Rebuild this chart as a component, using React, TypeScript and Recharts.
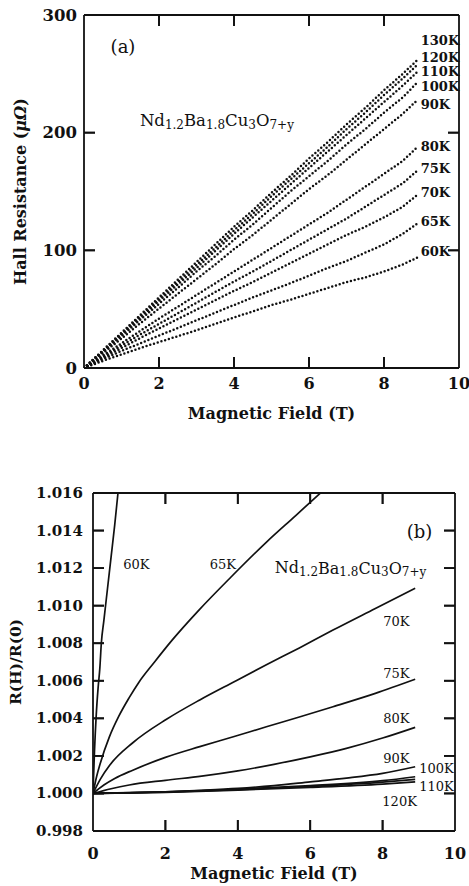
import { ComposedChart, Label, Line, ReferenceLine, Scatter, XAxis, YAxis } from "recharts";

// ---- panel (a): Hall resistance (μΩ) vs field (T) ----
const FIELD_A = [0, 0.5, 1, 1.5, 2, 2.5, 3, 3.5, 4, 4.5, 5, 5.5, 6, 6.5, 7, 7.5, 8, 8.5, 8.9];
const hall60 = [0, 6, 11.5, 17, 22, 27, 32, 37.5, 43, 48, 53.5, 58, 63, 68, 73, 77, 82, 88, 94];
const hall65 = [0, 7.5, 14.5, 21, 27.5, 34, 40.5, 47, 53.5, 60, 66, 72, 78.5, 85, 91, 98, 105, 114, 123];
const hall70 = [0, 8.5, 17, 25.5, 33.5, 41.5, 49.5, 57.5, 65.5, 73, 81, 89, 97, 105, 113, 120, 128, 137, 147.5];
const hall75 = [0, 9.5, 19, 28.5, 37.5, 46.5, 55.5, 64.5, 73.5, 82, 91, 100, 109, 118, 127, 137, 147, 157, 168];
const hall80 = [0, 10.5, 21, 31.5, 42, 52, 62, 72, 82, 92, 102, 112, 122, 132, 143, 154, 165, 176, 188];
const hall90 = [0, 12.5, 25, 38, 50.5, 63, 75.5, 88, 101, 113, 126, 139, 152, 164, 177, 190, 203, 216, 228];
const hall100 = [0, 13.5, 27, 41, 54.5, 68, 82, 95, 109, 122, 136, 150, 163, 176, 190, 203, 217, 230, 243];
const hall110 = [0, 14, 28.5, 42.5, 57, 71, 85, 99.5, 114, 128, 142, 156, 170, 184, 198, 212, 226, 240, 252];
const hall120 = [0, 14.5, 29, 44, 58.5, 73, 87.5, 102, 117, 131, 146, 160, 174, 188, 203, 217, 232, 246, 258];
const hall130 = [0, 15, 30, 45, 60, 75, 90, 105, 120, 134, 149, 163, 178, 192, 207, 221, 236, 250, 262];

const HALL_SERIES = [
  { name: "60K", values: hall60, dy: -6 },
  { name: "65K", values: hall65, dy: -2 },
  { name: "70K", values: hall70, dy: -2 },
  { name: "75K", values: hall75, dy: -2 },
  { name: "80K", values: hall80, dy: 0 },
  { name: "90K", values: hall90, dy: 5 },
  { name: "100K", values: hall100, dy: 4 },
  { name: "110K", values: hall110, dy: 0 },
  { name: "120K", values: hall120, dy: -7 },
  { name: "130K", values: hall130, dy: -19 }
];

// ---- panel (b): R(H)/R(0) vs field ----
const ratio60x = [0, 0.04, 0.09, 0.14, 0.19, 0.23, 0.3, 0.4, 0.5, 0.6, 0.69];
const ratio60 = [1.0, 1.0022, 1.0042, 1.0056, 1.0067, 1.008, 1.0092, 1.0109, 1.0126, 1.0143, 1.016];
const ratio65x = [0, 0.1, 0.2, 0.45, 0.71, 1.0, 1.26, 1.7, 2.18, 2.92, 3.8, 4.8, 5.6, 6.28];
const ratio65 = [1.0, 1.0009, 1.0016, 1.003, 1.0041, 1.0051, 1.0059, 1.007, 1.00815, 1.00975, 1.0115, 1.0134, 1.0148, 1.016];
const ratio70x = [0, 0.2, 0.46, 1.1, 2.03, 2.95, 3.9, 4.79, 5.7, 6.63, 7.8, 8.9];
const ratio70 = [1.0, 1.00075, 1.0015, 1.0027, 1.00395, 1.00498, 1.00595, 1.00685, 1.00775, 1.0087, 1.00985, 1.01093];
const ratio75x = [0, 0.3, 0.6, 1.1, 2.0, 2.95, 3.9, 4.79, 5.7, 6.63, 7.8, 8.9];
const ratio75 = [1.0, 1.00045, 1.0008, 1.00124, 1.00192, 1.00249, 1.00303, 1.00355, 1.00407, 1.00462, 1.00533, 1.00608];
const ratio80x = [0, 0.5, 1, 2, 3, 4, 5, 6, 7, 8, 8.9];
const ratio80 = [1.0, 1.00025, 1.00045, 1.0007, 1.00092, 1.0012, 1.00155, 1.00195, 1.0024, 1.00295, 1.00352];
const ratio90x = [0, 1, 2, 3, 4, 5, 6, 7, 8, 8.9];
const ratio90 = [1.0, 1.00003, 1.00009, 1.00017, 1.00027, 1.00042, 1.00062, 1.00082, 1.00107, 1.00142];
const ratioHighX = [0, 2, 4, 6, 8, 8.9];
const ratio100 = [1.0, 1.00008, 1.00022, 1.00042, 1.00068, 1.00089];
const ratio110 = [1.0, 1.00007, 1.0002, 1.00037, 1.0006, 1.00075];
const ratio120 = [1.0, 1.00006, 1.00018, 1.00032, 1.0005, 1.00062];

const RATIO_SERIES = [
  { name: "60K", xs: ratio60x, values: ratio60 },
  { name: "65K", xs: ratio65x, values: ratio65 },
  { name: "70K", xs: ratio70x, values: ratio70 },
  { name: "75K", xs: ratio75x, values: ratio75 },
  { name: "80K", xs: ratio80x, values: ratio80 },
  { name: "90K", xs: ratio90x, values: ratio90 },
  { name: "100K", xs: ratioHighX, values: ratio100 },
  { name: "110K", xs: ratioHighX, values: ratio110 },
  { name: "120K", xs: ratioHighX, values: ratio120 }
];

// text placed inside the plots, in data coordinates
const notesA = [
  { x: 1.04, y: 273, text: "(a)", kind: "panel" },
  { x: 1.49, y: 210.6, text: "", kind: "formula" }
];
const notesB = [
  { x: 9.02, y: 1.01394, text: "(b)", kind: "panel" },
  { x: 5.02, y: 1.01202, text: "", kind: "formula" },
  { x: 1.2, y: 1.01218, text: "60K", kind: "temp" },
  { x: 3.59, y: 1.0122, text: "65K", kind: "temp" },
  { x: 8.38, y: 1.00915, text: "70K", kind: "temp" },
  { x: 8.38, y: 1.0064, text: "75K", kind: "temp" },
  { x: 8.38, y: 1.004, text: "80K", kind: "temp" },
  { x: 8.38, y: 1.00187, text: "90K", kind: "temp" },
  { x: 9.49, y: 1.00133, text: "100K", kind: "temp" },
  { x: 9.49, y: 1.00035, text: "110K", kind: "temp" },
  { x: 8.47, y: 0.99955, text: "120K", kind: "temp" }
];

const FIELD_TICKS = [0, 2, 4, 6, 8, 10];
const FIELD_INNER = [2, 4, 6, 8];
const HALL_TICKS = [0, 100, 200, 300];
const HALL_INNER = [100, 200];
const RATIO_TICKS = [0.998, 1.0, 1.002, 1.004, 1.006, 1.008, 1.01, 1.012, 1.014, 1.016];
const RATIO_INNER = [1.0, 1.002, 1.004, 1.006, 1.008, 1.01, 1.012, 1.014];

const FONT = '"DejaVu Serif", serif';
const INK = "#111";
const frame = { stroke: INK, strokeWidth: 1.8 };
const TICK_LEN = 11;

const toPoints = (xs: number[], ys: number[]) => xs.map((x, i) => ({ x, y: ys[i] }));

type Box = { x0: number; x1: number; y0: number; y1: number; w: number; h: number };
// domain and plot size (px) of each panel
const BOX_A: Box = { x0: 0, x1: 10, y0: 0, y1: 300, w: 375, h: 353 };
const BOX_B: Box = { x0: 0, x1: 10, y0: 0.998, y1: 1.016, w: 362, h: 338 };
// plot edges in chart pixels, for the tick marks drawn with the axis labels
const EDGE_A = { top: 15, bottom: 368, left: 84, right: 459 };
const EDGE_B = { top: 53, bottom: 391, left: 93, right: 455 };

// top and right edges of the frame
function edgeSegments(box: Box) {
  return [
    [{ x: box.x0, y: box.y1 }, { x: box.x1, y: box.y1 }],
    [{ x: box.x1, y: box.y0 }, { x: box.x1, y: box.y1 }]
  ];
}

// inward tick marks on all four sides, each a two-point line
function tickSegments(box: Box, xs: number[], ys: number[]) {
  const lx = (TICK_LEN * (box.x1 - box.x0)) / box.w;
  const ly = (TICK_LEN * (box.y1 - box.y0)) / box.h;
  return [
    ...xs.map((x) => [{ x, y: box.y0 }, { x, y: box.y0 + ly }]),
    ...xs.map((x) => [{ x, y: box.y1 }, { x, y: box.y1 - ly }]),
    ...ys.map((y) => [{ x: box.x0, y }, { x: box.x0 + lx, y }]),
    ...ys.map((y) => [{ x: box.x1, y }, { x: box.x1 - lx, y }])
  ];
}

const fieldTick = (edge: typeof EDGE_A, labelY: number, size: number) => (props: any) => {
  const inner = FIELD_INNER.includes(Number(props.payload.value));
  return (
    <g>
      {inner && <line x1={props.x} x2={props.x} y1={edge.bottom} y2={edge.bottom - TICK_LEN} stroke={INK} strokeWidth={1.8} />}
      {inner && <line x1={props.x} x2={props.x} y1={edge.top} y2={edge.top + TICK_LEN} stroke={INK} strokeWidth={1.8} />}
      <text x={props.x} y={labelY} textAnchor="middle" dominantBaseline="central" fontFamily={FONT} fontSize={size} fontWeight={700} fill={INK}>
        {props.payload.value}
      </text>
    </g>
  );
};

const valueTick =
  (edge: typeof EDGE_A, gap: number, size: number, innerTicks: number[], fmt: (v: number) => string) => (props: any) => {
    const inner = innerTicks.includes(Number(props.payload.value));
    return (
      <g>
        {inner && <line x1={edge.left} x2={edge.left + TICK_LEN} y1={props.y} y2={props.y} stroke={INK} strokeWidth={1.8} />}
        {inner && <line x1={edge.right} x2={edge.right - TICK_LEN} y1={props.y} y2={props.y} stroke={INK} strokeWidth={1.8} />}
        <text x={edge.left - gap} y={props.y} textAnchor="end" dominantBaseline="central" fontFamily={FONT} fontSize={size} fontWeight={700} fill={INK}>
          {fmt(props.payload.value)}
        </text>
      </g>
    );
  };

function Formula({ x, y, size }: { x: number; y: number; size: number }) {
  const sub = Math.round(size * 0.72);
  const d = Math.round(size * 0.28);
  return (
    <text x={x} y={y} fontFamily={FONT} fontSize={size} fill={INK} dominantBaseline="central">
      Nd
      <tspan fontSize={sub} dy={d}>1.2</tspan>
      <tspan dy={-d}>Ba</tspan>
      <tspan fontSize={sub} dy={d}>1.8</tspan>
      <tspan dy={-d}>Cu</tspan>
      <tspan fontSize={sub} dy={d}>3</tspan>
      <tspan dy={-d}>O</tspan>
      <tspan fontSize={sub} dy={d}>7+y</tspan>
    </text>
  );
}

const noteShape = (formulaSize: number) => (props: any) => {
  const { cx, cy, payload } = props;
  if (payload.kind === "formula") {
    return <Formula x={cx} y={cy} size={formulaSize} />;
  }
  const size = payload.kind === "panel" ? 18 : 13;
  return (
    <text x={cx} y={cy} textAnchor="middle" dominantBaseline="central" fontFamily={FONT} fontSize={size} fill={INK}>
      {payload.text}
    </text>
  );
};

const endLabel = (name: string, last: number, dy: number) => (props: any) => {
  if (props.index !== last) return null;
  const x = props.x ?? props.viewBox?.x;
  const y = props.y ?? props.viewBox?.y;
  return (
    <text x={x + 3} y={y + dy} dominantBaseline="central" fontFamily={FONT} fontSize={13} fontWeight={700} fill={INK}>
      {name}
    </text>
  );
};

const xTitle = (dy: number) => (props: any) => {
  const vb = props.viewBox;
  return (
    <text x={vb.x + vb.width / 2} y={vb.y + dy} textAnchor="middle" fontFamily={FONT} fontSize={16} fontWeight={700} fill={INK}>
      Magnetic Field (T)
    </text>
  );
};

const yTitle = (dx: number, size: number, children: any) => (props: any) => {
  const vb = props.viewBox;
  const cx = vb.x + dx;
  const cy = vb.y + vb.height / 2;
  return (
    <text
      x={cx}
      y={cy}
      transform={`rotate(-90 ${cx} ${cy})`}
      textAnchor="middle"
      dominantBaseline="central"
      fontFamily={FONT}
      fontSize={size}
      fontWeight={700}
      fill={INK}
    >
      {children}
    </text>
  );
};

function tickLines(prefix: string, box: Box, xs: number[], ys: number[]) {
  return tickSegments(box, xs, ys).map((seg, i) => (
    <Line
      key={`${prefix}${i}`}
      data={seg}
      dataKey="y"
      type="linear"
      stroke={INK}
      strokeWidth={1.8}
      dot={false}
      activeDot={false}
      legendType="none"
      isAnimationActive={false}
    />
  ));
}

function HallPanel() {
  return (
    <ComposedChart width={469} height={430} margin={{ top: 15, right: 10, bottom: 0, left: 0 }}>
      <XAxis
        type="number"
        dataKey="x"
        domain={[0, 10]}
        ticks={FIELD_TICKS}
        interval={0}
        allowDataOverflow
        height={62}
        tickSize={0}
        axisLine={frame}
        tickLine={false}
        tick={fieldTick(EDGE_A, 383, 16)}
      >
        <Label content={xTitle(51)} />
      </XAxis>
      <YAxis
        type="number"
        dataKey="y"
        domain={[0, 300]}
        ticks={HALL_TICKS}
        interval={0}
        allowDataOverflow
        width={84}
        tickSize={0}
        axisLine={frame}
        tickLine={false}
        tick={valueTick(EDGE_A, 7, 16.5, HALL_INNER, (v) => String(v))}
      >
        <Label
          content={yTitle(
            20,
            16,
            <>
              Hall Resistance (<tspan fontStyle="italic">μΩ</tspan>)
            </>
          )}
        />
      </YAxis>
      {edgeSegments(BOX_A).map((seg, i) => (
        <ReferenceLine key={`ea${i}`} segment={seg} stroke={INK} strokeWidth={1.8} ifOverflow="visible" />
      ))}
      {tickLines("ta", BOX_A, FIELD_INNER, HALL_INNER)}
      {HALL_SERIES.map((s) => (
        <Line
          key={s.name}
          data={toPoints(FIELD_A, s.values)}
          dataKey="y"
          type="linear"
          stroke={INK}
          strokeWidth={2.5}
          strokeDasharray="0 3.9"
          strokeLinecap="round"
          dot={false}
          activeDot={false}
          label={endLabel(s.name, FIELD_A.length - 1, s.dy)}
          isAnimationActive={false}
        />
      ))}
      <Scatter data={notesA} shape={noteShape(16.5)} isAnimationActive={false} />
    </ComposedChart>
  );
}

function RatioPanel() {
  return (
    <ComposedChart width={469} height={446} margin={{ top: 53, right: 14, bottom: 0, left: 0 }}>
      <XAxis
        type="number"
        dataKey="x"
        domain={[0, 10]}
        ticks={FIELD_TICKS}
        interval={0}
        allowDataOverflow
        height={55}
        tickSize={0}
        axisLine={frame}
        tickLine={false}
        tick={fieldTick(EDGE_B, 413, 16)}
      >
        <Label content={xTitle(48)} />
      </XAxis>
      <YAxis
        type="number"
        dataKey="y"
        domain={[0.998, 1.016]}
        ticks={RATIO_TICKS}
        interval={0}
        allowDataOverflow
        width={93}
        tickSize={0}
        axisLine={frame}
        tickLine={false}
        tick={valueTick(EDGE_B, 10, 15, RATIO_INNER, (v) => v.toFixed(3))}
      >
        <Label content={yTitle(15, 15.5, "R(H)/R(0)")} />
      </YAxis>
      {edgeSegments(BOX_B).map((seg, i) => (
        <ReferenceLine key={`eb${i}`} segment={seg} stroke={INK} strokeWidth={1.8} ifOverflow="visible" />
      ))}
      {tickLines("tb", BOX_B, FIELD_INNER, RATIO_INNER)}
      {RATIO_SERIES.map((s) => (
        <Line
          key={s.name}
          data={toPoints(s.xs, s.values)}
          dataKey="y"
          type="monotone"
          stroke={INK}
          strokeWidth={1.7}
          dot={false}
          activeDot={false}
          isAnimationActive={false}
        />
      ))}
      <Scatter data={notesB} shape={noteShape(16)} isAnimationActive={false} />
    </ComposedChart>
  );
}

export default function App() {
  return (
    <div style={{ position: "absolute", left: 0, top: 0, width: 469, height: 886, background: "#fff" }}>
      <div style={{ position: "absolute", left: 0, top: 0 }}>
        <HallPanel />
      </div>
      <div style={{ position: "absolute", left: 0, top: 440 }}>
        <RatioPanel />
      </div>
    </div>
  );
}
